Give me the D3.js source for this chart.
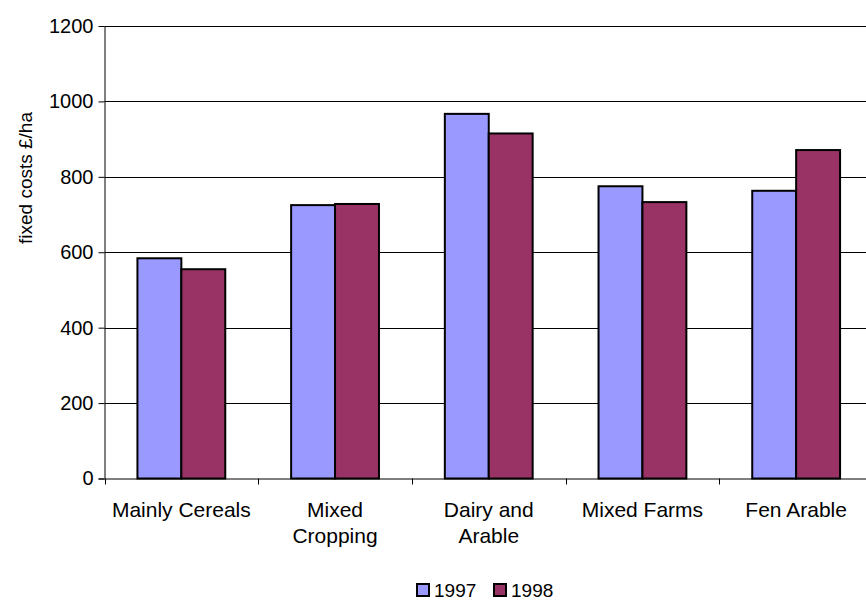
<!DOCTYPE html>
<html>
<head>
<meta charset="utf-8">
<script src="https://cdn.jsdelivr.net/npm/d3@7"></script>
<style>
  html, body { margin: 0; padding: 0; background: #fff; }
  svg { display: block; font-family: "Liberation Sans", Arial, sans-serif; }
</style>
</head>
<body>
<svg id="chart" width="866" height="601"></svg>
<script>
// Farm types (category axis), label lines split for wrapping
const categories = ["Mainly Cereals", "Mixed Cropping", "Dairy and Arable", "Mixed Farms", "Fen Arable"];
const categoryLines = [["Mainly Cereals"], ["Mixed", "Cropping"], ["Dairy and", "Arable"], ["Mixed Farms"], ["Fen Arable"]];
const seriesNames = ["1997", "1998"];
const values1997 = [584, 725, 967, 775, 763];
const values1998 = [555, 728, 915, 733, 871];
const yTicks = [0, 200, 400, 600, 800, 1000, 1200];
const colors = ["#9999FF", "#993366"];

const svg = d3.select("#chart");
const plot = { left: 104.5, right: 873, top: 26, bottom: 478.5 };
const FONT = "Liberation Sans, Arial, sans-serif";

const x = d3.scaleBand().domain(categories).range([plot.left, plot.right]).paddingInner(0).paddingOuter(0);
const y = d3.scaleLinear().domain([0, 1200]).range([plot.bottom, plot.top]);
const barW = x.bandwidth() / 3.5; // gap width 150%
const xs = d3.scaleBand().domain(seriesNames).range([0, 2 * barW]);

// gridlines
svg.append("g").selectAll("line").data(yTicks.filter(d => d > 0)).join("line")
  .attr("x1", plot.left).attr("x2", 866)
  .attr("y1", d => Math.round(y(d)) + 0.5).attr("y2", d => Math.round(y(d)) + 0.5)
  .attr("stroke", "#000").attr("stroke-width", 1);

// bars
const series = [values1997, values1998];
const groups = svg.append("g").selectAll("g").data(series).join("g")
  .attr("fill", (d, i) => colors[i]);
groups.selectAll("rect").data((d, i) => d.map((v, j) => ({ v, cat: categories[j], s: seriesNames[i] })))
  .join("rect")
  .attr("x", d => x(d.cat) + (x.bandwidth() - 2 * barW) / 2 + xs(d.s))
  .attr("y", d => y(d.v))
  .attr("width", barW)
  .attr("height", d => y(0) - y(d.v))
  .attr("stroke", "#000").attr("stroke-width", 2);

// y axis
const yAxis = svg.append("g").attr("transform", `translate(${plot.left},0)`)
  .call(d3.axisLeft(y).tickValues(yTicks).tickSize(6).tickPadding(5).tickFormat(d3.format("d")));
yAxis.select(".domain").attr("stroke", "#000").attr("d", `M0.5,${plot.top}V${plot.bottom}`);
yAxis.selectAll("line").attr("stroke", "#000");
yAxis.selectAll("text").attr("font-size", 20).attr("fill", "#000").attr("font-family", FONT);

// x axis
const xAxis = svg.append("g").attr("transform", `translate(0,${plot.bottom})`);
xAxis.append("line").attr("x1", plot.left - 6).attr("x2", 866)
  .attr("y1", 0.5).attr("y2", 0.5).attr("stroke", "#000");
xAxis.selectAll("line.tick").data(categories.concat(["end"])).join("line")
  .attr("class", "tick")
  .attr("x1", (d, i) => Math.round(plot.left + i * x.bandwidth()) + 0.5)
  .attr("x2", (d, i) => Math.round(plot.left + i * x.bandwidth()) + 0.5)
  .attr("y1", 0).attr("y2", 6).attr("stroke", "#000");
xAxis.selectAll("text").data(categories).join("text")
  .attr("x", d => x(d) + x.bandwidth() / 2)
  .attr("y", 38)
  .attr("text-anchor", "middle").attr("font-size", 21).attr("fill", "#000").attr("font-family", FONT)
  .each(function (d, i) {
    d3.select(this).selectAll("tspan").data(categoryLines[i]).join("tspan")
      .attr("x", x(d) + x.bandwidth() / 2)
      .attr("dy", (t, k) => k === 0 ? 0 : 26)
      .text(t => t);
  });

// y axis title
svg.append("text")
  .attr("transform", "translate(32,178) rotate(-90)")
  .attr("text-anchor", "middle").attr("font-size", 19).attr("fill", "#000").attr("font-family", FONT)
  .text("fixed costs £/ha");

// legend
const legend = svg.append("g").attr("transform", "translate(417,584)");
const item = legend.selectAll("g").data(seriesNames).join("g")
  .attr("transform", (d, i) => `translate(${i * 77},0)`);
item.append("rect").attr("width", 12).attr("height", 12)
  .attr("fill", (d, i) => colors[i]).attr("stroke", "#000").attr("stroke-width", 2);
item.append("text").attr("x", 17).attr("y", 12.5).attr("font-size", 19).attr("fill", "#000").attr("font-family", FONT)
  .text(d => d);
</script>
</body>
</html>
